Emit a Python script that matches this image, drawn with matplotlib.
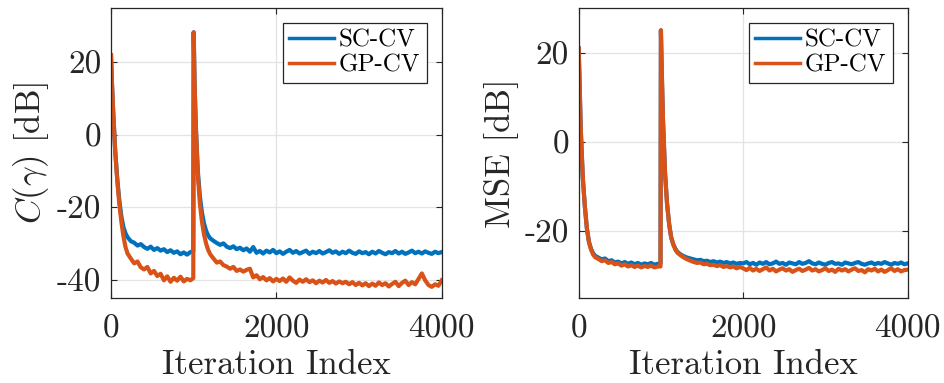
import numpy as np
import matplotlib
matplotlib.use("Agg")
import matplotlib.pyplot as plt
from matplotlib.ticker import FuncFormatter

iters = ([0, 10, 25, 50, 75, 100, 125, 150, 175, 200]
         + list(range(240, 961, 40)) + [995]
         + [1000, 1010, 1025, 1050, 1075, 1100, 1125, 1150, 1175, 1200]
         + list(range(1240, 4001, 40)))

# left panel: C(gamma) [dB]
cost_sc = [22, 15, 7, -4, -12, -18, -22.5, -25.5, -27.2, -28.3,
           -29.4, -29.8, -30.6, -30.2, -31.0, -31.5, -30.9, -31.8, -31.3, -32.0,
           -31.6, -32.4, -31.9, -32.6, -32.2, -33.0, -32.5, -33.1, -32.4,
           -32.2,
           28.3, 15, 3, -10, -17, -21.5, -24.5, -26.5, -27.8, -28.6,
           -29.3, -29.9, -30.4, -30.0, -30.9, -31.3, -30.8, -31.6, -31.2, -31.9,
           -31.4, -32.3, -31.0, -32.6, -32.1, -32.8, -32.0, -32.5, -31.8, -32.7,
           -32.2, -32.9, -32.3, -31.8, -32.6, -32.1, -32.8, -32.4, -32.0, -32.9,
           -32.3, -32.7, -32.1, -32.8, -32.4, -31.9, -32.6, -32.2, -32.9, -32.3,
           -32.7, -32.0, -32.6, -32.9, -32.2, -32.7, -32.4, -33.0, -32.3, -32.8,
           -32.1, -32.6, -33.0, -32.4, -32.7, -32.1, -32.8, -32.3, -32.9, -32.5,
           -32.0, -32.7, -32.3, -32.8, -32.2, -32.6, -32.9, -32.3, -32.7, -32.4]
cost_gp = [22, 15, 7, -4.5, -12.5, -19, -24, -28, -31, -32.8,
           -34.2, -35.5, -35.0, -36.6, -37.2, -36.5, -38.3, -37.6, -39.0, -38.4,
           -40.2, -39.1, -40.6, -39.5, -40.3, -39.2, -40.5, -39.8, -40.2,
           -39.6,
           28.3, 15, 2.5, -11, -19, -24, -27.5, -30, -31.8, -33,
           -34.2, -35.3, -35.0, -36.0, -36.4, -37.0, -36.5, -37.6, -37.2, -37.8,
           -37.3, -37.0, -39.4, -38.8, -39.9, -39.3, -40.2, -39.6, -40.5, -39.8,
           -40.4, -39.7, -40.6, -39.4, -40.3, -40.9, -40.0, -40.6, -39.9, -40.7,
           -40.2, -41.0, -40.3, -40.8, -40.1, -40.9, -40.4, -41.1, -40.5, -41.0,
           -40.6, -41.3, -40.7, -41.5, -40.9, -41.6, -41.0, -41.8, -41.1, -41.7,
           -40.8, -41.5, -41.0, -41.9, -41.2, -40.6, -41.8, -40.9, -40.3, -41.5,
           -40.7, -41.3, -39.8, -38.3, -40.2, -41.5, -42.0, -41.3, -41.7, -40.2]

# right panel: MSE [dB]
mse_sc = [21, 14, 3, -8, -14.5, -19.5, -22.5, -24, -25, -25.6,
          -26.0, -26.4, -26.2, -26.8, -26.6, -27.1, -26.9, -27.3, -27.0, -27.4,
          -27.1, -27.5, -27.2, -27.6, -27.3, -27.5, -27.2, -27.6, -27.4,
          -27.3,
          25, 16, 5, -7, -14, -18.5, -21.5, -23, -24, -24.7,
          -25.3, -25.7, -26.0, -26.2, -26.4, -26.6, -26.5, -26.8, -26.7, -27.0,
          -26.8, -27.1, -26.9, -27.2, -27.0, -27.3, -27.1, -27.4, -27.2,
          -27.3, -27.0, -27.5, -27.2, -27.6, -27.1, -27.4, -27.0, -27.5, -27.3,
          -26.9, -27.4, -27.2, -27.6, -27.1, -27.3, -27.5, -27.0, -27.4, -27.2,
          -26.8, -27.3, -27.5, -27.1, -27.4, -27.6, -27.2, -27.0, -27.4, -27.3,
          -27.6, -27.1, -27.3, -27.5, -27.2, -27.0, -27.4, -27.6, -27.3, -27.1,
          -27.5, -27.2, -27.4, -27.0, -27.3, -27.6, -27.2, -27.4, -27.1, -27.5,
          -27.3]
mse_gp = [21, 14, 3, -8, -14.5, -19.5, -22.5, -24.2, -25.3, -25.9,
          -26.3, -26.8, -26.6, -27.2, -27.0, -27.5, -27.3, -27.8, -27.5, -28.0,
          -27.7, -28.1, -27.8, -28.2, -27.9, -28.1, -27.8, -28.2, -28.0,
          -28.0,
          25, 16, 5, -7, -14, -18.5, -21.5, -23, -24.2, -24.9,
          -25.5, -26.0, -26.4, -26.7, -27.0, -27.2, -27.1, -27.5, -27.4, -27.7,
          -27.6, -27.9, -27.7, -28.1, -27.9, -28.2, -28.0, -28.4, -28.1,
          -28.4, -28.8, -28.3, -28.9, -28.5, -29.0, -28.6, -28.2, -28.9, -28.5,
          -29.1, -28.7, -28.4, -28.9, -28.6, -29.2, -28.8, -28.5, -29.0, -28.7,
          -28.3, -28.9, -28.6, -29.1, -28.8, -28.4, -29.0, -28.7, -29.2, -28.5,
          -28.9, -28.6, -29.1, -28.7, -28.4, -29.0, -28.8, -29.3, -28.6, -28.9,
          -28.5, -29.1, -28.7, -29.2, -28.8, -28.4, -29.0, -28.6, -29.1, -28.8,
          -28.7]

labels = ["SC-CV", "GP-CV"]
xticks = [0, 2000, 4000]

plt.rcParams['font.family'] = 'cmr10'
plt.rcParams['mathtext.fontset'] = 'cm'
plt.rcParams['axes.unicode_minus'] = False

blue = '#0072BD'
orange = '#D95319'
edge = '#262626'

fig = plt.figure(figsize=(9.44, 3.83), dpi=100)

panels = [
    ([0.1176, 0.2227, 0.3503, 0.7563], cost_sc, cost_gp, (-45, 35), [-40, -20, 0, 20], r'$C(\gamma)$ [dB]'),
    ([0.6130, 0.2227, 0.3485, 0.7563], mse_sc, mse_gp, (-35, 30), [-20, 0, 20], 'MSE [dB]'),
]

for rect, sc, gp, ylim, yticks, ylabel in panels:
    ax = fig.add_axes(rect)
    ax.plot(iters, sc, color=blue, lw=3.0, label=labels[0])
    ax.plot(iters, gp, color=orange, lw=3.0, label=labels[1])
    ax.set_xlim(0, 4000)
    ax.set_ylim(*ylim)
    ax.set_xticks(xticks)
    ax.set_yticks(yticks)
    ax.xaxis.set_major_formatter(FuncFormatter(lambda v, p: '%g' % v))
    ax.yaxis.set_major_formatter(FuncFormatter(lambda v, p: '%g' % v))
    ax.tick_params(direction='in', length=4, width=0.8, colors=edge,
                   top=True, right=True, labelsize=24, labelcolor=edge)
    ax.tick_params(axis='x', pad=12)
    ax.tick_params(axis='y', pad=7)
    ax.grid(True, color='#e3e3e3', lw=0.9)
    ax.set_axisbelow(True)
    for s in ax.spines.values():
        s.set_color(edge)
        s.set_linewidth(0.9)
    ax.set_xlabel('Iteration Index', fontsize=25, color=edge, labelpad=4)
    ax.set_ylabel(ylabel, fontsize=25, color=edge, labelpad=4)
    leg = ax.legend(loc='upper right', fontsize=18, fancybox=False, framealpha=1,
                    edgecolor=edge, handlelength=1.8, handletextpad=0.2,
                    borderpad=0.25, labelspacing=0.1, borderaxespad=0.6)
    leg.get_frame().set_linewidth(0.9)
    for line in leg.get_lines():
        line.set_linewidth(2.5)

fig.savefig('out.png', dpi=100)
